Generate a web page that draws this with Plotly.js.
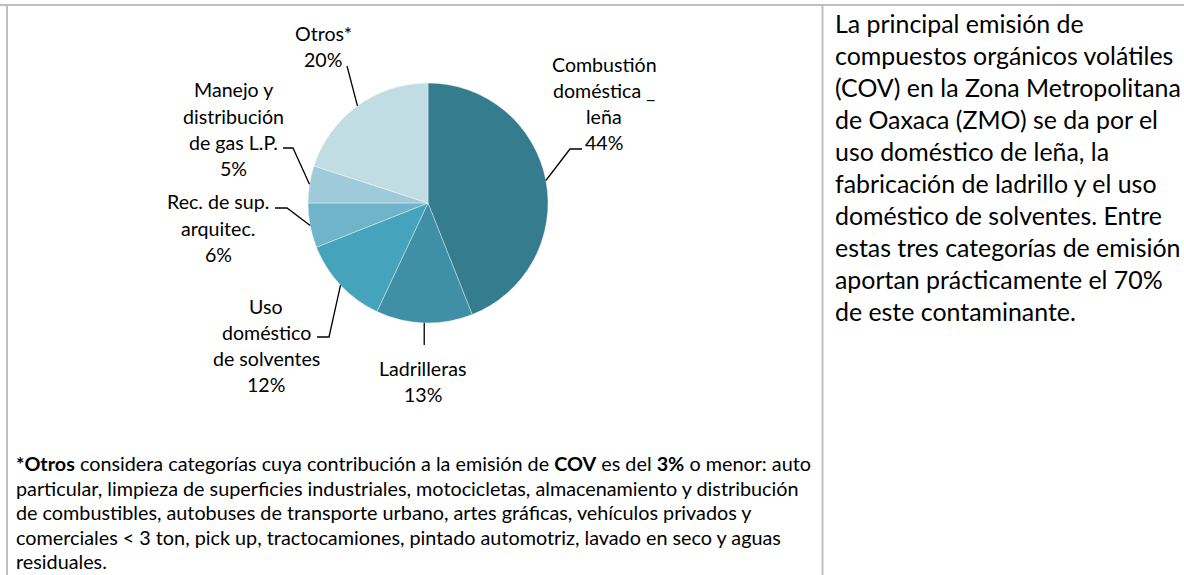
<!DOCTYPE html>
<html>
<head>
<meta charset="utf-8">
<script src="https://cdn.plot.ly/plotly-3.0.1.min.js"></script>
<style>
  html, body { margin: 0; padding: 0; background: #ffffff; }
  #chart { width: 1184px; height: 575px; }
</style>
</head>
<body>
<div id="chart"></div>
<script>
// ---------------- DATA ----------------
const categories = [
  'Combustión doméstica _ leña',
  'Ladrilleras',
  'Uso doméstico de solventes',
  'Rec. de sup. arquitec.',
  'Manejo y distribución de gas L.P.',
  'Otros*'
];
const values = [44, 13, 12, 6, 5, 20];
const labelLines = [
  ['Combustión', 'doméstica _', 'leña'],
  ['Ladrilleras'],
  ['Uso', 'doméstico', 'de solventes'],
  ['Rec. de sup.', 'arquitec.'],
  ['Manejo y', 'distribución', 'de gas L.P.'],
  ['Otros*']
];
const sideText = [
  'La principal emisión de',
  'compuestos orgánicos volátiles',
  '(COV) en la Zona Metropolitana',
  'de Oaxaca (ZMO) se da por el',
  'uso doméstico de leña, la',
  'fabricación de ladrillo y el uso',
  'doméstico de solventes. Entre',
  'estas tres categorías de emisión',
  'aportan prácticamente el 70%',
  'de este contaminante.'
];
const footnote = [
  '<b>*Otros</b> considera categorías cuya contribución a la emisión de <b>COV</b> es del <b>3%</b> o menor: auto',
  'particular, limpieza de superficies industriales, motocicletas, almacenamiento y distribución',
  'de combustibles, autobuses de transporte urbano, artes gráficas, vehículos privados y',
  'comerciales &lt; 3 ton, pick up, tractocamiones, pintado automotriz, lavado en seco y aguas',
  'residuales.'
];

// ---------------- STYLE / LAYOUT ----------------
const W = 1184, H = 575;
const colors = ['#357C8E', '#3F90A7', '#45A4BC', '#70B4CA', '#9FCAD9', '#C2DCE4'];
const pieCx = 428, pieCy = 203, pieR = 120;
// label block: center x, first line center y
const labelPos = [[604, 64], [423, 368], [266, 306], [218, 202], [233, 90], [323, 33]];
const labelSpacing = 26.3;
// leader line path after the slice edge point: list of pixel points
const leaderPts = [
  [[570, 149], [582, 149]],
  [[null, 345]],
  [[329, 337], [317, 337]],
  [[287, 208], [275, 208]],
  [[293, 148], [283, 148]],
  [[347, 66]]
];
const FONT = 'Lato, "Open Sans", sans-serif';

const px = x => x / W;
const py = y => 1 - y / H;

const annotations = [];
function addLine(text, x, y, size, anchor) {
  annotations.push({
    text: text, xref: 'paper', yref: 'paper', x: px(x), y: py(y),
    xanchor: anchor, yanchor: 'middle', showarrow: false,
    font: { family: FONT, size: size, color: '#000000' }
  });
}

// pie labels
const total = values.reduce((a, b) => a + b, 0);
const shapes = [];
let cum = 0;
values.forEach((v, i) => {
  const mid = (cum + v / 2) / total * 2 * Math.PI;
  cum += v;
  const ex = pieCx + pieR * Math.sin(mid);
  const ey = pieCy - pieR * Math.cos(mid);
  let path = 'M ' + px(ex) + ' ' + py(ey);
  leaderPts[i].forEach(p => {
    const xx = p[0] === null ? ex : p[0];
    path += ' L ' + px(xx) + ' ' + py(p[1]);
  });
  shapes.push({ type: 'path', xref: 'paper', yref: 'paper', path: path,
    line: { color: '#000000', width: 1.3 } });
  const lines = labelLines[i].concat([v + '%']);
  lines.forEach((t, k) => addLine(t, labelPos[i][0], labelPos[i][1] + k * labelSpacing, 19.6, 'center'));
});

// side text
sideText.forEach((t, k) => addLine(t, 833, 23 + k * 32, 24.9, 'left'));
// footnote
footnote.forEach((t, k) => addLine(t, 14, 463 + k * 24.5, 19.8, 'left'));

// table borders
const border = { color: '#BFBFBF', width: 2 };
shapes.push({ type: 'line', xref: 'paper', yref: 'paper', x0: 0, x1: 1, y0: py(5), y1: py(5), line: border });
shapes.push({ type: 'line', xref: 'paper', yref: 'paper', x0: px(7), x1: px(7), y0: py(5), y1: 0, line: border });
shapes.push({ type: 'line', xref: 'paper', yref: 'paper', x0: px(822.5), x1: px(822.5), y0: py(5), y1: 0, line: border });

const trace = {
  type: 'pie',
  labels: categories,
  values: values,
  sort: false,
  direction: 'clockwise',
  rotation: 0,
  textinfo: 'none',
  hoverinfo: 'label+percent',
  marker: { colors: colors, line: { color: 'rgba(255,255,255,0.45)', width: 0.8 } },
  domain: { x: [px(pieCx - pieR), px(pieCx + pieR)], y: [py(pieCy + pieR), py(pieCy - pieR)] }
};

const layout = {
  width: W, height: H,
  margin: { l: 0, r: 0, t: 0, b: 0 },
  paper_bgcolor: '#ffffff',
  plot_bgcolor: '#ffffff',
  showlegend: false,
  annotations: annotations,
  shapes: shapes
};

Plotly.newPlot('chart', [trace], layout, { displayModeBar: false, staticPlot: true });
</script>
</body>
</html>
